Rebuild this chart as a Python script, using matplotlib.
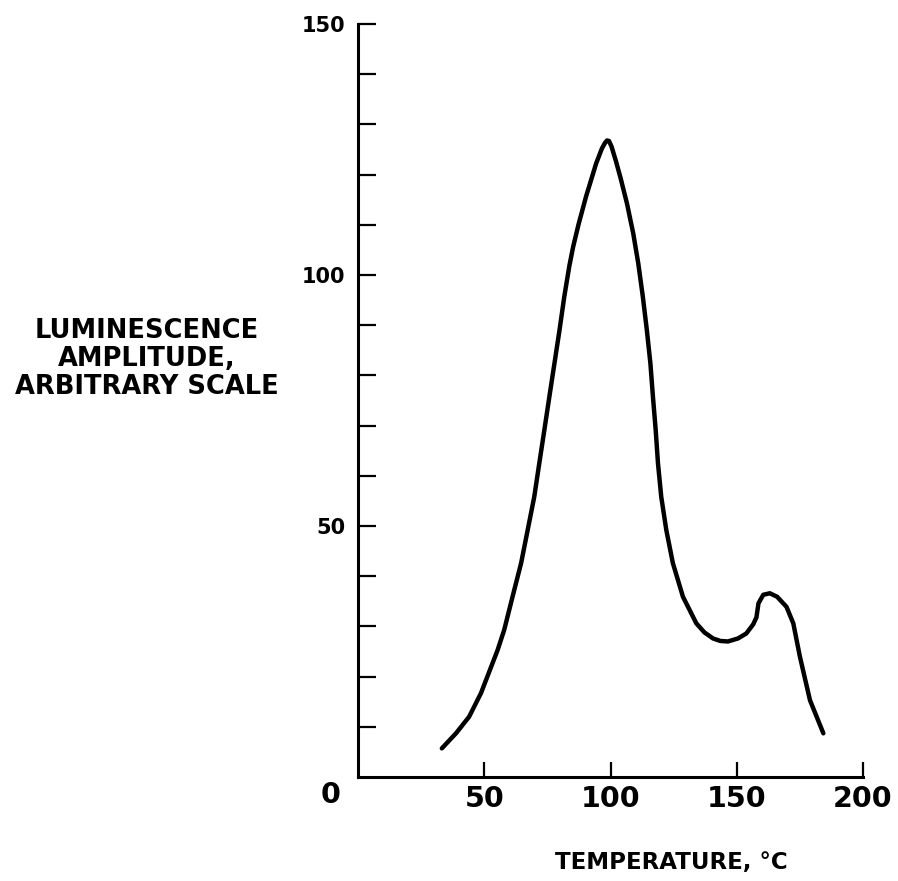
import matplotlib
matplotlib.use("Agg")
import matplotlib.pyplot as plt
from matplotlib.ticker import FixedLocator, NullFormatter

# Data
temperature_c = [33.2, 38.8, 44.0, 48.7, 52.0, 55.3, 57.9, 61.2, 64.6, 67.2, 69.8,
                 71.8, 73.8, 75.8, 77.8, 79.8, 81.7, 83.7, 85.2, 87.3, 90.3, 94.3,
                 96.6, 97.8, 98.6, 99.4, 100.4, 102.2, 104.0, 106.5, 109.0, 111.0,
                 112.8, 114.4, 115.8, 116.8, 117.9, 118.8, 120.1, 122.1, 124.7, 128.7,
                 134.0, 137.2, 140.6, 143.5, 146.5, 150.5, 153.8, 156.5, 157.8, 158.6,
                 160.5, 163.1, 166.0, 169.7, 172.4, 175.0, 179.0, 184.3]
luminescence = [5.7, 8.7, 12.0, 16.7, 21.0, 25.3, 29.3, 35.9, 42.6, 49.2, 55.8,
                62.5, 69.1, 75.8, 82.4, 89.0, 95.7, 101.8, 105.6, 110.0, 115.6, 122.2,
                125.2, 126.3, 126.8, 126.7, 125.6, 122.6, 119.3, 114.3, 108.3, 102.3,
                95.7, 89.0, 82.4, 75.8, 69.1, 62.5, 55.8, 49.2, 42.6, 35.9,
                30.6, 28.8, 27.6, 27.1, 27.0, 27.6, 28.6, 30.4, 31.8, 34.6,
                36.3, 36.6, 35.9, 33.9, 30.6, 24.0, 15.3, 8.7]

x_major = [50, 100, 150, 200]
x_labels = ["50", "100", "150", "200"]
y_major = [50, 100, 150]
y_labels = ["50", "100", "150"]
y_minor = [10, 20, 30, 40, 60, 70, 80, 90, 110, 120, 130, 140]

W, H = 898, 881
fig = plt.figure(figsize=(W / 100, H / 100), dpi=100)
x0, x1 = 358, 863
y0, y1 = 777, 24
ax = fig.add_axes([x0 / W, 1 - y0 / H, (x1 - x0) / W, (y0 - y1) / H])

ax.plot(temperature_c, luminescence, color="black", lw=3.2,
        solid_capstyle="round", solid_joinstyle="round")

ax.set_xlim(0, 200)
ax.set_ylim(0, 150)
for s in ["top", "right"]:
    ax.spines[s].set_visible(False)
for s in ["left", "bottom"]:
    ax.spines[s].set_linewidth(2.2)
    ax.spines[s].set_capstyle("projecting")

font = "DejaVu Sans"
ax.xaxis.set_major_locator(FixedLocator(x_major))
ax.set_xticklabels(x_labels, fontsize=20.5, fontweight="bold", family=font)
ax.yaxis.set_major_locator(FixedLocator(y_major))
ax.yaxis.set_minor_locator(FixedLocator(y_minor))
ax.yaxis.set_minor_formatter(NullFormatter())
ax.set_yticklabels(y_labels, fontsize=15, fontweight="bold", family=font)

ax.tick_params(axis="x", which="major", direction="in", length=11, width=1.6, pad=6)
ax.tick_params(axis="y", which="both", direction="in", length=13, width=1.6, pad=9)

def px(x, y):
    return x / W, 1 - y / H

fig.text(*px(331, 795), "0", fontsize=20.5, fontweight="bold", family=font,
         ha="center", va="center")
fig.text(*px(147, 359), "LUMINESCENCE\nAMPLITUDE,\nARBITRARY SCALE", fontsize=18.5,
         fontweight="bold", family=font, ha="center", va="center",
         linespacing=1.1, multialignment="center")
fig.text(*px(671, 863), "TEMPERATURE, °C", fontsize=16.5, fontweight="bold",
         family=font, ha="center", va="center")

fig.savefig("out.png", dpi=100, facecolor="white")
